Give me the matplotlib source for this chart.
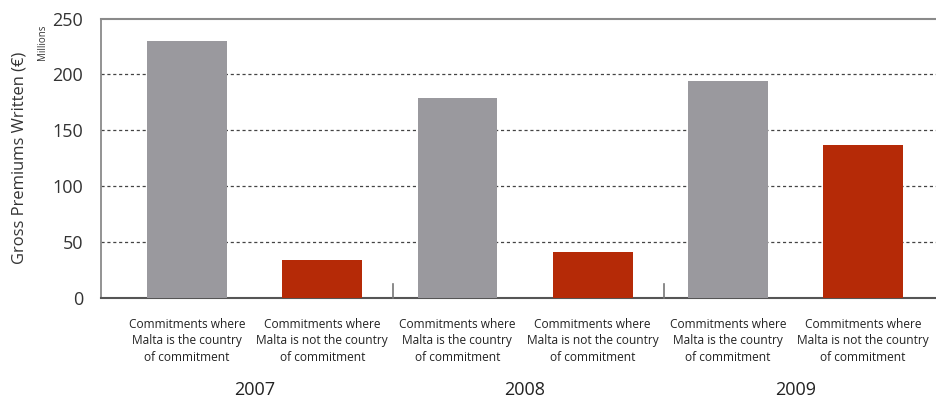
import matplotlib
matplotlib.use("Agg")
import matplotlib.pyplot as plt
from matplotlib.transforms import blended_transform_factory, offset_copy

plt.rcParams['font.family'] = ['Open Sans', 'DejaVu Sans']

years = ["2007", "2008", "2009"]
categories = [
    "Commitments where\nMalta is the country\nof commitment",
    "Commitments where\nMalta is not the country\nof commitment",
]
malta_country = [230, 179, 194]
not_malta_country = [34, 41, 137]
yticks = [0, 50, 100, 150, 200, 250]

GRAY = "#9a999e"
RED = "#b52a07"

fig = plt.figure(figsize=(9.37, 3.98), dpi=100)
ax = fig.add_axes([0.1078, 0.2513, 0.8922, 0.7022])

n = len(years)
xs, vals, cols, labels = [], [], [], []
for i in range(n):
    xs += [2 * i, 2 * i + 1]
    vals += [malta_country[i], not_malta_country[i]]
    cols += [GRAY, RED]
    labels += categories

ax.bar(xs, vals, width=0.59, color=cols, zorder=3)

ax.set_xlim(-0.636, 5.547)
ax.set_ylim(0, 250)
ax.set_yticks(yticks)
ax.set_yticklabels([str(t) for t in yticks], fontsize=13, color="#333333")
ax.tick_params(axis="y", length=0, pad=13)
ax.set_xticks([])

for t in yticks[1:-1]:
    ax.axhline(t, color="#444444", lw=0.9, ls=(0, (2.5, 2.2)), zorder=1)

ax.spines["right"].set_visible(False)
ax.spines["top"].set_color("#8a8a8a")
ax.spines["top"].set_linewidth(1.5)
ax.spines["left"].set_color("#8a8a8a")
ax.spines["left"].set_linewidth(1.3)
ax.spines["bottom"].set_color("#555555")
ax.spines["bottom"].set_linewidth(1.5)

# group separators on the category axis
trans = blended_transform_factory(ax.transData, ax.transAxes)
for xsep in [1.52, 3.53]:
    ax.plot([xsep, xsep], [0, 0.05], color="#777777", lw=1.2, transform=trans,
            clip_on=False, zorder=4)

# category labels and year labels
for x, lab in zip(xs, labels):
    ax.text(x, 0, lab, transform=offset_copy(trans, fig=fig, y=-43, units="dots"),
            ha="center", va="center", fontsize=8.6, color="#222222",
            linespacing=1.38)
for i, yr in enumerate(years):
    ax.text(2 * i + 0.5, 0, yr, transform=offset_copy(trans, fig=fig, y=-92, units="dots"),
            ha="center", va="center", fontsize=13, color="#222222")

ax.set_ylabel("Gross Premiums Written (€)", fontsize=11.9, color="#333333")
ax.yaxis.set_label_coords(-0.088, 0.5)
fig.text(43 / 937, 1 - 42 / 398, "Millions", rotation=90, fontsize=7,
         ha="center", va="center", color="#333333")

fig.savefig("out.png", dpi=100)
